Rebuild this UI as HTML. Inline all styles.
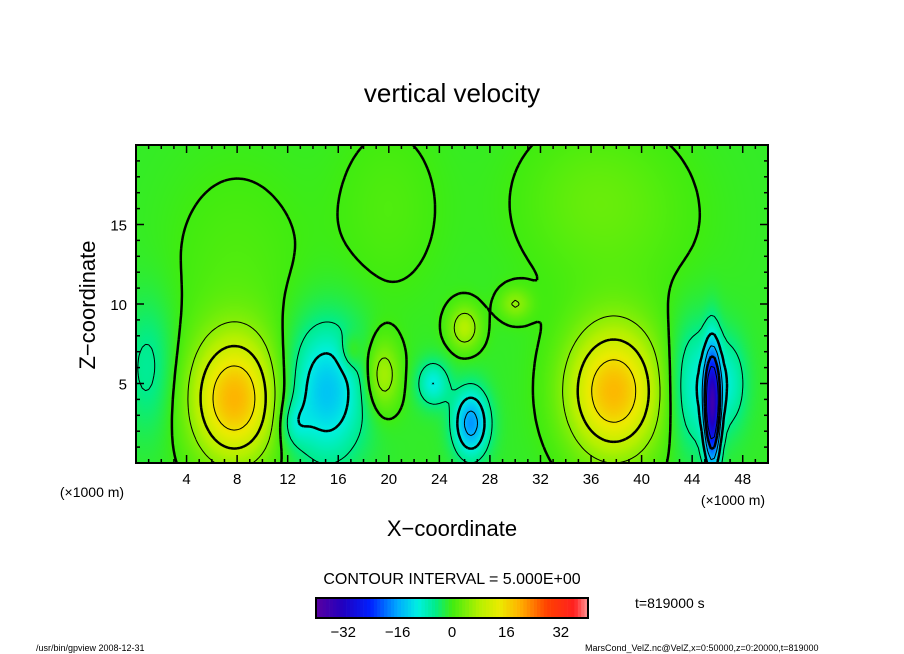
<!DOCTYPE html>
<html><head><meta charset="utf-8"><style>
body{margin:0;background:#fff;width:904px;height:654px;overflow:hidden;position:relative;font-family:"Liberation Sans",sans-serif}
svg{position:absolute;left:0;top:0}
canvas{position:absolute;left:136px;top:145px}
</style></head><body>
<canvas id="cv" width="632" height="318"></canvas>
<svg id="sv" width="904" height="654">
<text x="452" y="102" font-size="26" text-anchor="middle">vertical velocity</text>
<text x="95" y="305" font-size="22" text-anchor="middle" transform="rotate(-90 95 305)">Z−coordinate</text>
<text x="452" y="536" font-size="22" text-anchor="middle">X−coordinate</text>
<text x="92" y="497" font-size="14" text-anchor="middle">(×1000 m)</text>
<text x="733" y="505" font-size="14" text-anchor="middle">(×1000 m)</text>
<text x="452" y="584" font-size="16" text-anchor="middle">CONTOUR INTERVAL = 5.000E+00</text>
<text x="635" y="608" font-size="14">t=819000 s</text>
<text x="36" y="651" font-size="9">/usr/bin/gpview   2008-12-31</text>
<text x="585" y="651" font-size="9">MarsCond_VelZ.nc@VelZ,x=0:50000,z=0:20000,t=819000</text>
<g id="cont"></g>
<g id="axes"></g>
<g id="cbar"></g>
</svg>
<script>
const xTicks=[4,8,12,16,20,24,28,32,36,40,44,48];
const zTicks=[5,10,15];
const cbTicks=[-32,-16,0,16,32];
const blobX=[7.8,15,19.5,23.5,26.5,26,37.8,45.6,44.3,30,1,17,12.5,47,8,38,20,36];
const blobZ=[4,4.5,5.5,5,2.5,8.5,4.5,3.5,4.8,10,6,7,2.5,5,12,15,16,17];
const blobAmp=[20,-13,9,-9,-16,9,20,-28,-9,6,-5,5,-5,-6,2,2,2,2];
const blobSX=[2.4,2.2,1,0.9,1,0.9,2.6,0.45,1.5,0.9,1.5,0.6,0.8,1,4,5,3,4];
const blobSZ=[2.8,3,1.6,1,1.5,1,2.9,2.6,2.8,0.7,3,0.8,1,2,5,4,4,3];
const offset=-1;
const levels=[-25,-20,-15,-10,-5,0,5,10,15,20];
const X0=136,X1=768,Y0=145,Y1=463,XMAX=50,ZMAX=20;
const sx=v=>X0+(v/XMAX)*(X1-X0), sz=v=>Y1-(v/ZMAX)*(Y1-Y0);
function field(x,z){let s=offset;for(let i=0;i<blobX.length;i++){const dx=(x-blobX[i])/blobSX[i],dz=(z-blobZ[i])/blobSZ[i];s+=blobAmp[i]*Math.exp(-(dx*dx+dz*dz)/2);}return s;}
const stops=[[-40,[90,0,160]],[-32,[32,0,192]],[-24,[0,32,255]],[-16,[0,170,255]],[-10,[0,240,224]],[-5,[0,236,140]],[0,[64,236,16]],[8,[180,240,0]],[14,[235,235,0]],[20,[255,176,0]],[28,[255,64,0]],[36,[255,32,32]],[40,[255,150,150]]];
function col(v){if(v<=-40)return stops[0][1];for(let i=1;i<stops.length;i++){if(v<=stops[i][0]){const a=stops[i-1],b=stops[i],t=(v-a[0])/(b[0]-a[0]);return a[1].map((c,k)=>Math.round(c+(b[1][k]-c)*t));}}return stops[stops.length-1][1];}
const ctx=document.getElementById('cv').getContext('2d');
const img=ctx.createImageData(632,318);
for(let py=0;py<318;py++)for(let px=0;px<632;px++){const x=(px+0.5)/632*XMAX,z=(318-py-0.5)/318*ZMAX;const c=col(field(x,z));const o=(py*632+px)*4;img.data[o]=c[0];img.data[o+1]=c[1];img.data[o+2]=c[2];img.data[o+3]=255;}
ctx.putImageData(img,0,0);
const NS='http://www.w3.org/2000/svg';
function mk(t,a,p){const e=document.createElementNS(NS,t);for(const k in a)e.setAttribute(k,a[k]);p.appendChild(e);return e;}
const cont=document.getElementById('cont');
const dx=0.25,nx=200,nz=80,G=[];
for(let j=0;j<=nz;j++){G[j]=[];for(let i=0;i<=nx;i++)G[j][i]=field(i*dx,j*dx);}
levels.forEach(L=>{let d='';
for(let j=0;j<nz;j++)for(let i=0;i<nx;i++){const v=[G[j][i],G[j][i+1],G[j+1][i+1],G[j+1][i]];const P=[[i,j],[i+1,j],[i+1,j+1],[i,j+1]];const pts=[];
for(let e=0;e<4;e++){const a=v[e],b=v[(e+1)%4];if((a<L)!==(b<L)){const t=(L-a)/(b-a);const pa=P[e],pb=P[(e+1)%4];pts.push([pa[0]+(pb[0]-pa[0])*t,pa[1]+(pb[1]-pa[1])*t]);}}
for(let k=0;k+1<pts.length;k+=2)d+='M'+sx(pts[k][0]*dx).toFixed(1)+' '+sz(pts[k][1]*dx).toFixed(1)+'L'+sx(pts[k+1][0]*dx).toFixed(1)+' '+sz(pts[k+1][1]*dx).toFixed(1);}
const p=mk('path',{d:d,fill:'none',stroke:'#000','stroke-width':(Math.abs(L)%10===0)?2.5:1,'stroke-dasharray':L<0?'5 4':'none'},cont);

});
const ax=document.getElementById('axes');
mk('rect',{x:X0,y:Y0,width:X1-X0,height:Y1-Y0,fill:'none',stroke:'#000','stroke-width':2},ax);
for(let v=1;v<XMAX;v++){const L=v%4===0?8:4;mk('line',{x1:sx(v),x2:sx(v),y1:Y1,y2:Y1-L,stroke:'#000','stroke-width':1.5},ax);mk('line',{x1:sx(v),x2:sx(v),y1:Y0,y2:Y0+L,stroke:'#000','stroke-width':1.5},ax);}
for(let v=1;v<ZMAX;v++){const L=v%5===0?8:4;mk('line',{x1:X0,x2:X0+L,y1:sz(v),y2:sz(v),stroke:'#000','stroke-width':1.5},ax);mk('line',{x1:X1,x2:X1-L,y1:sz(v),y2:sz(v),stroke:'#000','stroke-width':1.5},ax);}
xTicks.forEach(v=>{const t=mk('text',{x:sx(v),y:484,'font-size':15,'text-anchor':'middle'},ax);t.textContent=v;

});
zTicks.forEach(v=>{const t=mk('text',{x:127,y:sz(v)+6,'font-size':15,'text-anchor':'end'},ax);t.textContent=v;

});
const cb=document.getElementById('cbar');const C0=316,C1=588,CY=598,CH=20;const cx=v=>C0+(v+40)/80*(C1-C0);
for(let v=-40;v<40;v+=1){const c=col(v+0.5);mk('rect',{x:cx(v),y:CY,width:(C1-C0)/80+0.3,height:CH,fill:'rgb('+c+')'},cb);}
mk('rect',{x:C0,y:CY,width:C1-C0,height:CH,fill:'none',stroke:'#000','stroke-width':2},cb);
cbTicks.forEach(v=>{const t=mk('text',{x:cx(v),y:637,'font-size':15,'text-anchor':'middle'},cb);t.textContent=v<0?'−'+(-v):v;

});
</script>
</body></html>
